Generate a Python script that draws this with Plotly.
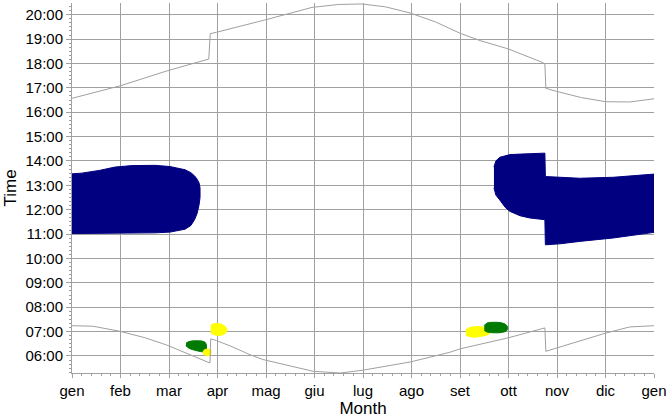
import plotly.graph_objects as go

# ---- data ----
month_labels = ["gen", "feb", "mar", "apr", "mag", "giu", "lug", "ago", "set", "ott", "nov", "dic", "gen"]
month_pos = list(range(13))

hour_vals = list(range(6, 21))
hour_text = [f"{h:02d}:00" for h in hour_vals]

# sunset (hours) vs month index
sunset_m = [0, 0.99, 1.95, 2.82, 2.85, 2.98, 3.97, 4.70, 4.95, 5.5, 5.98, 6.47, 6.97, 7.5, 8.0, 8.41, 8.99, 9.69, 9.75, 9.77, 10.0, 10.5, 11.01, 11.5, 12.0]
sunset_t = [16.57, 17.08, 17.69, 18.18, 19.22, 19.28, 19.78, 20.15, 20.30, 20.42, 20.44, 20.32, 20.07, 19.70, 19.24, 18.94, 18.60, 18.05, 17.98, 16.98, 16.85, 16.60, 16.43, 16.42, 16.55]

# sunrise (hours) vs month index
sunrise_m = [0, 0.43, 0.99, 1.5, 1.95, 2.845, 2.86, 2.98, 3.3, 3.67, 3.94, 4.97, 5.53, 5.98, 6.97, 7.79, 8.0, 8.99, 9.75, 9.77, 10.0, 11.01, 11.5, 12.0]
sunrise_t = [7.24, 7.22, 7.01, 6.75, 6.45, 5.71, 6.70, 6.63, 6.38, 6.05, 5.85, 5.37, 5.30, 5.41, 5.75, 6.15, 6.29, 6.74, 7.15, 6.19, 6.33, 6.94, 7.19, 7.24]

# blue blocks (month index, top, bottom)
blueA_m = [0, 0.2, 0.56, 0.89, 1.24, 1.71, 2.02, 2.33, 2.45, 2.53, 2.58, 2.62, 2.64]
blueA_top = [13.47, 13.50, 13.61, 13.75, 13.81, 13.82, 13.77, 13.64, 13.52, 13.38, 13.25, 13.10, 12.90]
blueA_bot = [11.02, 11.02, 11.03, 11.04, 11.04, 11.05, 11.08, 11.20, 11.35, 11.60, 11.85, 12.20, 12.50]

blueB_m = [8.70, 8.74, 8.82, 8.93, 9.03, 9.24, 9.44, 9.75, 9.76, 10.06, 10.47, 11.16, 12.0]
blueB_top = [13.75, 14.00, 14.15, 14.22, 14.26, 14.28, 14.30, 14.32, 13.36, 13.33, 13.29, 13.33, 13.46]
blueB_bot = [12.90, 12.60, 12.40, 12.10, 11.93, 11.75, 11.66, 11.59, 10.56, 10.60, 10.70, 10.84, 11.07]

# green / yellow spots (month index, top, bottom)
green1_m = [2.35, 2.40, 2.50, 2.60, 2.70, 2.76]
green1_top = [6.52, 6.58, 6.62, 6.62, 6.60, 6.52]
green1_bot = [6.42, 6.33, 6.25, 6.20, 6.17, 6.22]

yellow1_m = [2.70, 2.74, 2.80, 2.86]
yellow1_top = [6.18, 6.26, 6.28, 6.24]
yellow1_bot = [6.10, 6.04, 6.01, 6.06]

yellow2_m = [2.86, 2.92, 3.00, 3.08, 3.15, 3.19]
yellow2_top = [7.25, 7.32, 7.33, 7.30, 7.22, 7.12]
yellow2_bot = [6.95, 6.88, 6.84, 6.85, 6.92, 7.00]

yellow3_m = [8.12, 8.18, 8.30, 8.42, 8.54, 8.60]
yellow3_top = [7.05, 7.15, 7.20, 7.20, 7.15, 7.05]
yellow3_bot = [6.86, 6.80, 6.77, 6.80, 6.85, 6.90]

green2_m = [8.50, 8.56, 8.70, 8.85, 8.95, 8.98]
green2_top = [7.25, 7.35, 7.38, 7.36, 7.28, 7.18]
green2_bot = [7.05, 6.98, 6.95, 6.96, 7.02, 7.10]

NAVY = "#000080"
GREEN = "#007a00"
YELLOW = "#ffff00"
GRAY = "#a0a0a0"


def blob(m, top, bot, color, spline=False):
    return go.Scatter(
        x=list(m) + list(m)[::-1],
        y=list(top) + list(bot)[::-1],
        fill="toself",
        fillcolor=color,
        mode="lines",
        line=dict(color=color, width=1, shape="spline" if spline else "linear"),
        hoverinfo="skip",
        showlegend=False,
    )


fig = go.Figure()
fig.add_trace(blob(blueA_m, blueA_top, blueA_bot, NAVY))
fig.add_trace(blob(blueB_m, blueB_top, blueB_bot, NAVY))
fig.add_trace(blob(green1_m, green1_top, green1_bot, GREEN, True))
fig.add_trace(blob(yellow1_m, yellow1_top, yellow1_bot, YELLOW, True))
fig.add_trace(blob(yellow2_m, yellow2_top, yellow2_bot, YELLOW, True))
fig.add_trace(blob(yellow3_m, yellow3_top, yellow3_bot, YELLOW, True))
fig.add_trace(blob(green2_m, green2_top, green2_bot, GREEN, True))

fig.add_trace(go.Scatter(x=sunset_m, y=sunset_t, mode="lines",
                         line=dict(color=GRAY, width=1), showlegend=False))
fig.add_trace(go.Scatter(x=sunrise_m, y=sunrise_t, mode="lines",
                         line=dict(color=GRAY, width=1), showlegend=False))

fig.update_layout(
    width=669, height=418,
    margin=dict(l=72, r=15, t=3, b=45),
    plot_bgcolor="white", paper_bgcolor="white",
    font=dict(family="Liberation Sans, Arial, sans-serif", size=15, color="black"),
    showlegend=False,
)
fig.update_xaxes(
    range=[0, 12], tickvals=month_pos, ticktext=month_labels,
    showgrid=True, gridcolor=GRAY, gridwidth=1,
    showline=True, linecolor=GRAY, linewidth=1,
    ticks="outside", ticklen=4, tickcolor=GRAY,
    minor=dict(dtick=0.2, ticks="outside", ticklen=2, tickcolor=GRAY, showgrid=False),
    zeroline=False, layer="above traces", automargin=False,
    title=dict(text="Month", font=dict(size=17), standoff=2),
)
fig.update_yaxes(
    range=[5.3, 20.48], tickvals=hour_vals, ticktext=hour_text,
    showgrid=True, gridcolor=GRAY, gridwidth=1,
    showline=True, linecolor=GRAY, linewidth=1,
    ticks="outside", ticklen=5, tickcolor=GRAY,
    minor=dict(dtick=1 / 6, ticks="outside", ticklen=2, tickcolor=GRAY, showgrid=False),
    zeroline=False, layer="above traces", automargin=False,
    title=dict(text="Time", font=dict(size=17), standoff=4),
)

fig.write_html("out.html", config={"displayModeBar": False},
               post_script="document.body.style.margin='0';")
